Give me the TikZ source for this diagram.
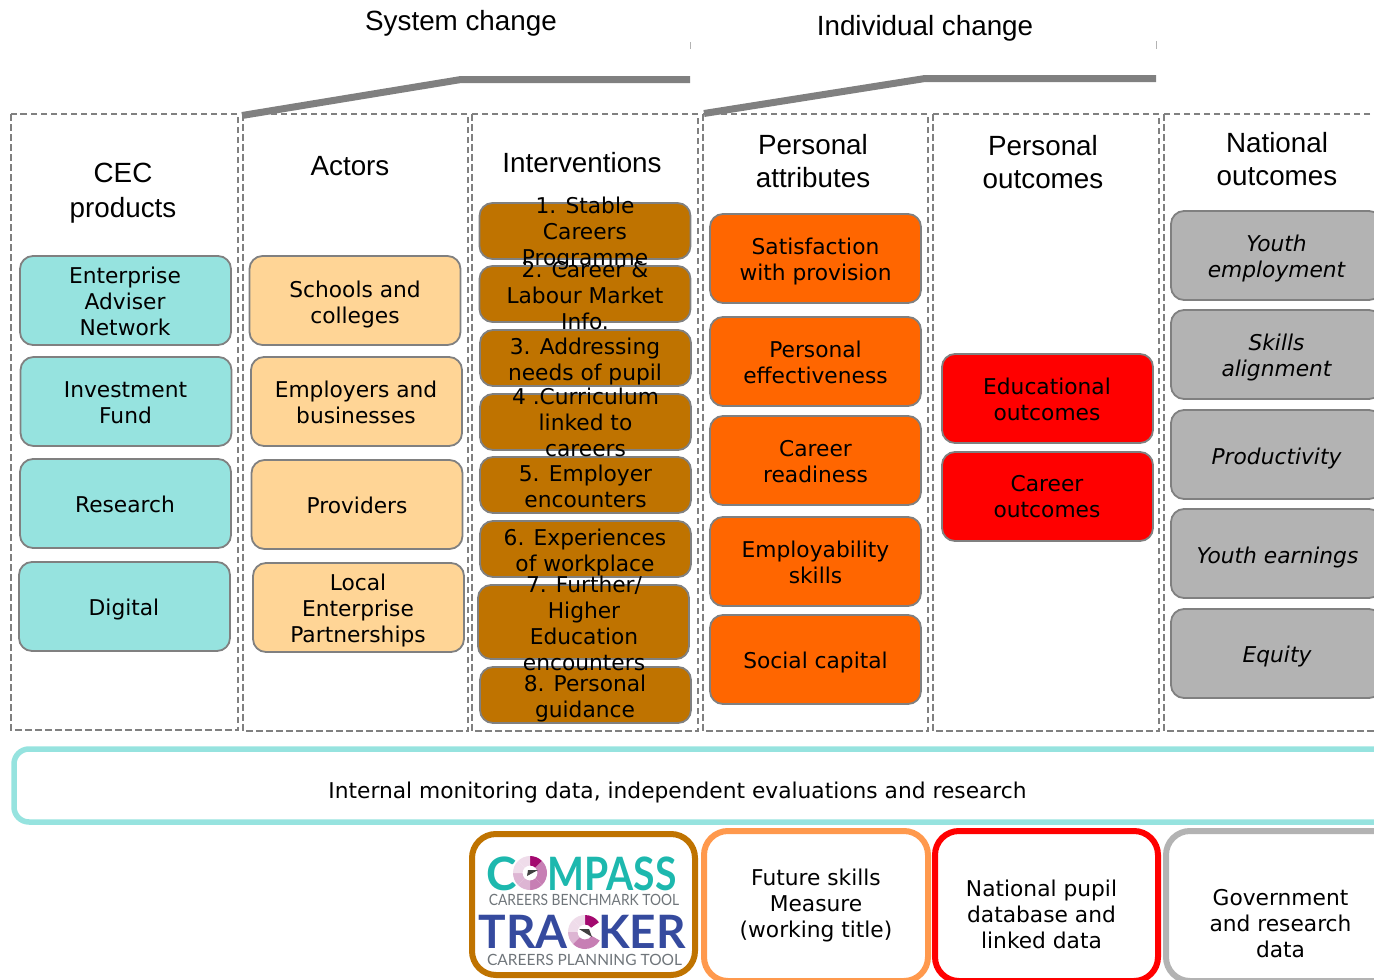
\documentclass[tikz,border=0pt]{standalone}
\usepackage{fontspec}
\setmainfont{DejaVu Sans}
\newfontfamily\headfont{Liberation Sans}
\newfontfamily\logofont{Lato}
\definecolor{cardcyan}{HTML}{96E3DF}
\definecolor{cardpeach}{HTML}{FFD596}
\definecolor{cardbrown}{HTML}{BF7300}
\definecolor{cardorange}{HTML}{FF6600}
\definecolor{cardgrey}{HTML}{B3B3B3}
\definecolor{rimorange}{HTML}{FF994D}
\definecolor{rulegrey}{HTML}{808080}
\definecolor{logoteal}{HTML}{1DB8AE}
\definecolor{logoblue}{HTML}{354A9E}
\definecolor{logotext}{HTML}{6F757A}
\definecolor{gaugedark}{HTML}{A3086F}
\definecolor{gaugemid}{HTML}{C77FB4}
\definecolor{gaugesoft}{HTML}{DDB5D3}
\definecolor{gaugepale}{HTML}{EFDCEA}
\tikzset{
  column/.style={draw=rulegrey,line width=1.8pt,dash pattern=on 6.5pt off 3.5pt},
  card/.style={draw=rulegrey,line width=1.8pt,rounded corners=13pt,minimum width=211pt,minimum height=89pt,inner sep=0pt},
  slim/.style={card,minimum height=56pt},
  cardtext/.style={align=center,inner sep=0pt,font=\fontsize{21.75}{26}\selectfont},
  nationaltext/.style={cardtext,font=\fontsize{21.75}{26}\selectfont\itshape},
  headtext/.style={align=center,inner sep=0pt,font=\headfont\fontsize{27.8}{33}\selectfont},
  source/.style={line width=6pt,rounded corners=24pt},
  brace/.style={draw=rulegrey,line width=7pt,line join=miter},
  logotype/.style={inner sep=0pt,text=logoteal,font=\logofont\bfseries\fontsize{46}{46}\selectfont},
  logobold/.style={inner sep=0pt,text=logoblue,font=\logofont\bfseries\fontsize{46}{46}\selectfont},
  logosmall/.style={inner sep=0pt,text=logotext,font=\logofont\fontsize{15.5}{16}\selectfont}
}
\newcommand{\gaugeseg}[3]{\fill[#3] (#1:17pt) arc (#1:#2:17pt) -- (#2:7.5pt) arc (#2:#1:7.5pt) -- cycle;}
\begin{document}
\begin{tikzpicture}[x=1pt,y=-1pt]
    \useasboundingbox (0,0) rectangle (1374,980);
    \clip (0,0) rectangle (1374,980);

    % headings over the columns
    \node [headtext] (systemhead) at (461,23) {System change};
    \node [headtext] (individualhead) at (925,28) {Individual change};
    \coordinate (systemleft) at (242,115.5);
    \coordinate (systemtop) at (461,79.5);
    \coordinate (systemright) at (690,79.5);
    \coordinate (individualleft) at (704,113.5);
    \coordinate (individualtop) at (925,78.5);
    \coordinate (individualright) at (1156,78.5);
    \draw [brace] (systemleft) -- (systemtop) -- (systemright);
    \draw [brace] (individualleft) -- (individualtop) -- (individualright);
    \draw [cardgrey,line width=1pt] (690,42) -- (690,49);
    \draw [cardgrey,line width=1pt] (1156,41) -- (1156,49);

    % dashed columns
    \draw [column] (11,114) rectangle (238,730);
    \draw [column] (243,114) rectangle (468,731);
    \draw [column] (472,114) rectangle (698,731);
    \draw [column] (703,114) rectangle (928,731);
    \draw [column] (933,114) rectangle (1159,731);
    \draw [column] (1164,114) rectangle (1400,731);

    \node [headtext,font=\headfont\fontsize{27.8}{35}\selectfont] (cechead) at (123,193) {CEC\\products};
    \node [headtext] (actorshead) at (350,166) {Actors};
    \node [headtext] (interventionshead) at (582,163) {Interventions};
    \node [headtext] (attributeshead) at (813,161) {Personal\\attributes};
    \node [headtext] (outcomeshead) at (1043,162) {Personal\\outcomes};
    \node [headtext] (nationalhead) at (1277,159) {National\\outcomes};

    % CEC products
    \node [card,fill=cardcyan] (enterprise) at (125.5,300.5) {};
    \node [card,fill=cardcyan] (fund) at (126,401.5) {};
    \node [card,fill=cardcyan] (research) at (125.5,503.5) {};
    \node [card,fill=cardcyan] (digital) at (124.5,606.5) {};
    \node [cardtext] (enterprisetext) at (125,301.5) {Enterprise\\Adviser\\Network};
    \node [cardtext] (fundtext) at (125.5,402.5) {Investment\\Fund};
    \node [cardtext] (researchtext) at (125,504.5) {Research};
    \node [cardtext] (digitaltext) at (124,609.5) {Digital};

    % actors
    \node [card,fill=cardpeach] (schools) at (355,300.5) {};
    \node [card,fill=cardpeach] (employers) at (356.5,401.5) {};
    \node [card,fill=cardpeach] (providers) at (357,504.5) {};
    \node [card,fill=cardpeach] (partnerships) at (358.5,607.5) {};
    \node [cardtext] (schoolstext) at (355,304) {Schools and\\colleges};
    \node [cardtext] (employerstext) at (356,402.5) {Employers and\\businesses};
    \node [cardtext] (providerstext) at (357,505.5) {Providers};
    \node [cardtext] (partnershipstext) at (358,610.5) {Local\\Enterprise\\Partnerships};

    % interventions, the text is taller than the boxes
    \node [slim,fill=cardbrown] (stable) at (585,231) {};
    \node [slim,fill=cardbrown] (labour) at (585,294) {};
    \node [slim,fill=cardbrown] (needs) at (585.5,358) {};
    \node [slim,fill=cardbrown] (curriculum) at (585.5,422) {};
    \node [slim,fill=cardbrown] (encounters) at (585.5,485) {};
    \node [slim,fill=cardbrown] (workplace) at (585.5,549) {};
    \node [slim,fill=cardbrown,minimum height=74pt] (higher) at (583.5,622) {};
    \node [slim,fill=cardbrown] (guidance) at (585.5,695) {};
    \node [cardtext] (stabletext) at (585,233) {1. Stable\\Careers\\Programme};
    \node [cardtext] (labourtext) at (585,296) {2. Career \&\\Labour Market\\Info.};
    \node [cardtext] (needstext) at (585,361) {3. Addressing\\needs of pupil};
    \node [cardtext] (curriculumtext) at (585.5,422) {4 .Curriculum\\linked to\\careers};
    \node [cardtext] (encounterstext) at (585.5,486) {5. Employer\\encounters};
    \node [cardtext] (workplacetext) at (585,552) {6. Experiences\\of workplace};
    \node [cardtext] (highertext) at (584,623) {7. Further/\\Higher\\Education\\encounters};
    \node [cardtext] (guidancetext) at (585,698) {8. Personal\\guidance};

    % personal attributes
    \node [card,fill=cardorange] (satisfaction) at (815.5,258.5) {};
    \node [card,fill=cardorange] (effectiveness) at (815.5,361.5) {};
    \node [card,fill=cardorange] (readiness) at (815.5,460.5) {};
    \node [card,fill=cardorange] (employability) at (815.5,561.5) {};
    \node [card,fill=cardorange] (capital) at (815.5,659.5) {};
    \node [cardtext] (satisfactiontext) at (815.5,261.5) {Satisfaction\\with provision};
    \node [cardtext] (effectivenesstext) at (815.5,362.5) {Personal\\effectiveness};
    \node [cardtext] (readinesstext) at (815.5,461.5) {Career\\readiness};
    \node [cardtext] (employabilitytext) at (815.5,562.5) {Employability\\skills};
    \node [cardtext] (capitaltext) at (815.5,662) {Social capital};

    % personal outcomes
    \node [card,fill=red] (educational) at (1047.5,398.5) {};
    \node [card,fill=red] (career) at (1047.5,496.5) {};
    \node [cardtext] (educationaltext) at (1047,399) {Educational\\outcomes};
    \node [cardtext] (careertext) at (1047,497) {Career\\outcomes};

    % national outcomes
    \node [card,fill=cardgrey] (youth) at (1276.5,255.5) {};
    \node [card,fill=cardgrey] (skills) at (1276.5,354.5) {};
    \node [card,fill=cardgrey] (productivity) at (1276.5,454.5) {};
    \node [card,fill=cardgrey] (earnings) at (1276.5,553.5) {};
    \node [card,fill=cardgrey] (equity) at (1276.5,653.5) {};
    \node [nationaltext] (youthtext) at (1276.5,258.5) {Youth\\employment};
    \node [nationaltext] (skillstext) at (1276.5,357.5) {Skills\\alignment};
    \node [nationaltext] (productivitytext) at (1276.5,458) {Productivity};
    \node [nationaltext] (earningstext) at (1277.5,557) {Youth earnings};
    \node [nationaltext] (equitytext) at (1277,656) {Equity};

    % monitoring band
    \draw [cardcyan,line width=5.5pt,rounded corners=15pt] (14,749) rectangle (1420,822);
    \node [cardtext] (monitoring) at (677.5,792) {Internal monitoring data, independent evaluations and research};

    % data sources
    \draw [source,cardbrown] (472,834) rectangle (695,975);
    \draw [source,rimorange] (704,831) rectangle (928,981);
    \draw [source,red] (935,831) rectangle (1158,981);
    \draw [source,cardgrey] (1166,831) rectangle (1420,981);
    \node [cardtext] (futureskills) at (816,905) {Future skills\\Measure\\(working title)};
    \node [cardtext] (pupildata) at (1041.5,914) {National pupil\\database and\\linked data};
    \node [cardtext] (governmentdata) at (1280.5,924) {Government\\and research\\data};

    % logos
    \node [logotype,anchor=west] (compassc) at (486,874) {C};
    \node [logotype,anchor=west] (compassrest) at (547,874) {\scalebox{0.85}[1]{MPASS}};
    \node [logosmall] (compasstool) at (584,900) {\scalebox{0.89}[1]{CAREERS BENCHMARK TOOL}};
    \node [logobold,anchor=east] (trackerleft) at (568,932) {TRA};
    \node [logobold,anchor=west] (trackerright) at (598,932) {KER};
    \node [logosmall] (trackertool) at (584.5,960) {CAREERS PLANNING TOOL};
    \begin{scope}[shift={(530,873)},x=1pt,y=1pt]
        \gaugeseg{45}{90}{gaugedark}
        \gaugeseg{0}{45}{gaugemid}
        \gaugeseg{-45}{0}{gaugemid}
        \gaugeseg{-90}{-45}{gaugemid}
        \gaugeseg{-135}{-90}{gaugesoft}
        \gaugeseg{-180}{-135}{gaugesoft}
        \gaugeseg{135}{180}{gaugepale}
        \gaugeseg{90}{135}{gaugepale}
        \fill [black!75] (-3,-3) -- (8,3) -- (-2,3) -- cycle;
    \end{scope}
    \begin{scope}[shift={(585,932)},x=1pt,y=1pt]
        \gaugeseg{35}{90}{gaugedark}
        \gaugeseg{90}{135}{gaugepale}
        \gaugeseg{135}{180}{gaugepale}
        \gaugeseg{-180}{-135}{gaugesoft}
        \gaugeseg{-135}{-90}{gaugemid}
        \gaugeseg{-90}{-30}{gaugemid}
        \fill [black!75] (-6,3) -- (7,-5) -- (4,3) -- cycle;
    \end{scope}
\end{tikzpicture}
\end{document}
